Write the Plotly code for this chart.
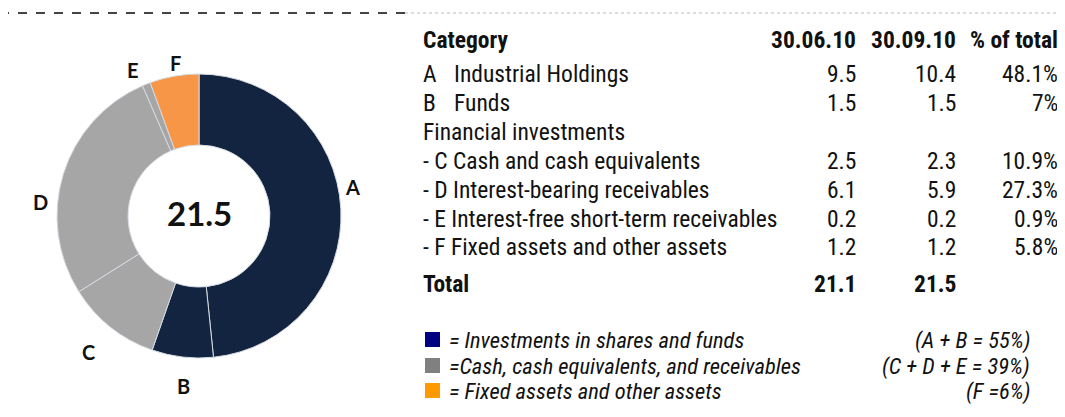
import plotly.graph_objects as go

W, H = 1065, 417
OFF = 8  # default page margin of the html body
FW, FH = W - OFF, H - OFF

# ---- data ----
letters = ["A", "B", "C", "D", "E", "F"]
names = ["Industrial Holdings", "Funds", "Cash and cash equivalents",
         "Interest-bearing receivables", "Interest-free short-term receivables",
         "Fixed assets and other assets"]
values_0610 = [9.5, 1.5, 2.5, 6.1, 0.2, 1.2]
values_0910 = [10.4, 1.5, 2.3, 5.9, 0.2, 1.2]
pct_total = ["48.1%", "7%", "10.9%", "27.3%", "0.9%", "5.8%"]
total_0610 = 21.1
total_0910 = 21.5
col_headers = ["Category", "30.06.10", "30.09.10", "% of total"]
group_labels = ["= Investments in shares and funds",
                "=Cash, cash equivalents, and receivables",
                "= Fixed assets and other assets"]
group_sums = ["(A + B = 55%)", "(C + D + E = 39%)", "(F =6%)"]

NAVY = "#12243f"
GRAY = "#a6a6a6"
ORANGE = "#f79646"
slice_colors = [NAVY, NAVY, GRAY, GRAY, GRAY, ORANGE]
legend_colors = ["#000080", "#808080", "#ff9900"]

NARROW = "Liberation Sans Narrow, Arial Narrow, Roboto Condensed, sans-serif"
BOLDF = "Lato, Open Sans, sans-serif"


def px(x):
    return (x - OFF) / FW


def py(y):
    return 1 - (y - OFF) / FH


cx, cy, r = 199, 216, 142

fig = go.Figure()
fig.add_trace(go.Pie(
    labels=letters, values=values_0910, sort=False, direction="clockwise",
    rotation=0, hole=0.5, textinfo="none", hoverinfo="label+value",
    marker=dict(colors=slice_colors, line=dict(color="#d5dbe3", width=1)),
    domain=dict(x=[px(cx - r), px(cx + r)], y=[py(cy + r), py(cy - r)]),
    showlegend=False,
))

ann = []
ann.append(dict(x=px(cx), y=py(213), text=f"<b>{total_0910}</b>", showarrow=False,
                font=dict(family=BOLDF, size=33, color="#111"), xanchor="center", yanchor="middle"))
lab_pos = {"A": (352, 187), "B": (183, 386), "C": (88, 352), "D": (40, 202),
           "E": (133, 70), "F": (175, 63)}
for l in letters:
    x, y = lab_pos[l]
    ann.append(dict(x=px(x), y=py(y), text=f"<b>{l}</b>", showarrow=False,
                    font=dict(family=BOLDF, size=20, color="#111"), xanchor="center", yanchor="middle"))

FS = 23.5
col_right = [858, 958, 1060]


def txt(x, y, s, anchor="left", bold=False, italic=False, size=FS):
    if bold:
        s = f"<b>{s}</b>"
    if italic:
        s = f"<i>{s}</i>"
    ann.append(dict(x=px(x), y=py(y), text=s, showarrow=False, xanchor=anchor, yanchor="middle",
                    font=dict(family=NARROW, size=size, color="#111")))


txt(421, 40, col_headers[0], bold=True)
for i in range(3):
    txt(col_right[i], 40, col_headers[i + 1], anchor="right", bold=True)

row_y = [74, 103, 161, 190, 219, 247]
for i in range(6):
    y = row_y[i]
    if i < 2:
        txt(421, y, letters[i])
        txt(452, y, names[i])
    else:
        txt(421, y, f"- {letters[i]} {names[i]}")
    txt(col_right[0], y, f"{values_0610[i]}", anchor="right")
    txt(col_right[1], y, f"{values_0910[i]}", anchor="right")
    txt(col_right[2], y, pct_total[i], anchor="right")
txt(421, 132, "Financial investments")
txt(421, 284, "Total", bold=True)
txt(col_right[0], 284, f"{total_0610}", anchor="right", bold=True)
txt(col_right[1], 284, f"{total_0910}", anchor="right", bold=True)

leg_y = [340, 366, 391]
LFS = 22.5
shapes = []
for i in range(3):
    y = leg_y[i]
    shapes.append(dict(type="rect", xref="paper", yref="paper",
                       x0=px(425), x1=px(440), y0=py(y + 7), y1=py(y - 8),
                       fillcolor=legend_colors[i], line=dict(width=0)))
    txt(447, y, group_labels[i], italic=True, size=LFS)
    txt(1032, y, group_sums[i], anchor="right", italic=True, size=LFS)

shapes.append(dict(type="line", xref="paper", yref="paper", x0=px(0), x1=px(405), y0=py(13), y1=py(13),
                   line=dict(color="#444", width=2, dash="dash")))
shapes.append(dict(type="line", xref="paper", yref="paper", x0=px(405), x1=1, y0=py(13), y1=py(13),
                   line=dict(color="#bbb", width=1, dash="dot")))

fig.update_layout(width=FW, height=FH, margin=dict(l=0, r=0, t=0, b=0),
                  paper_bgcolor="white", plot_bgcolor="white",
                  annotations=ann, shapes=shapes)
fig.write_html("out.html")
